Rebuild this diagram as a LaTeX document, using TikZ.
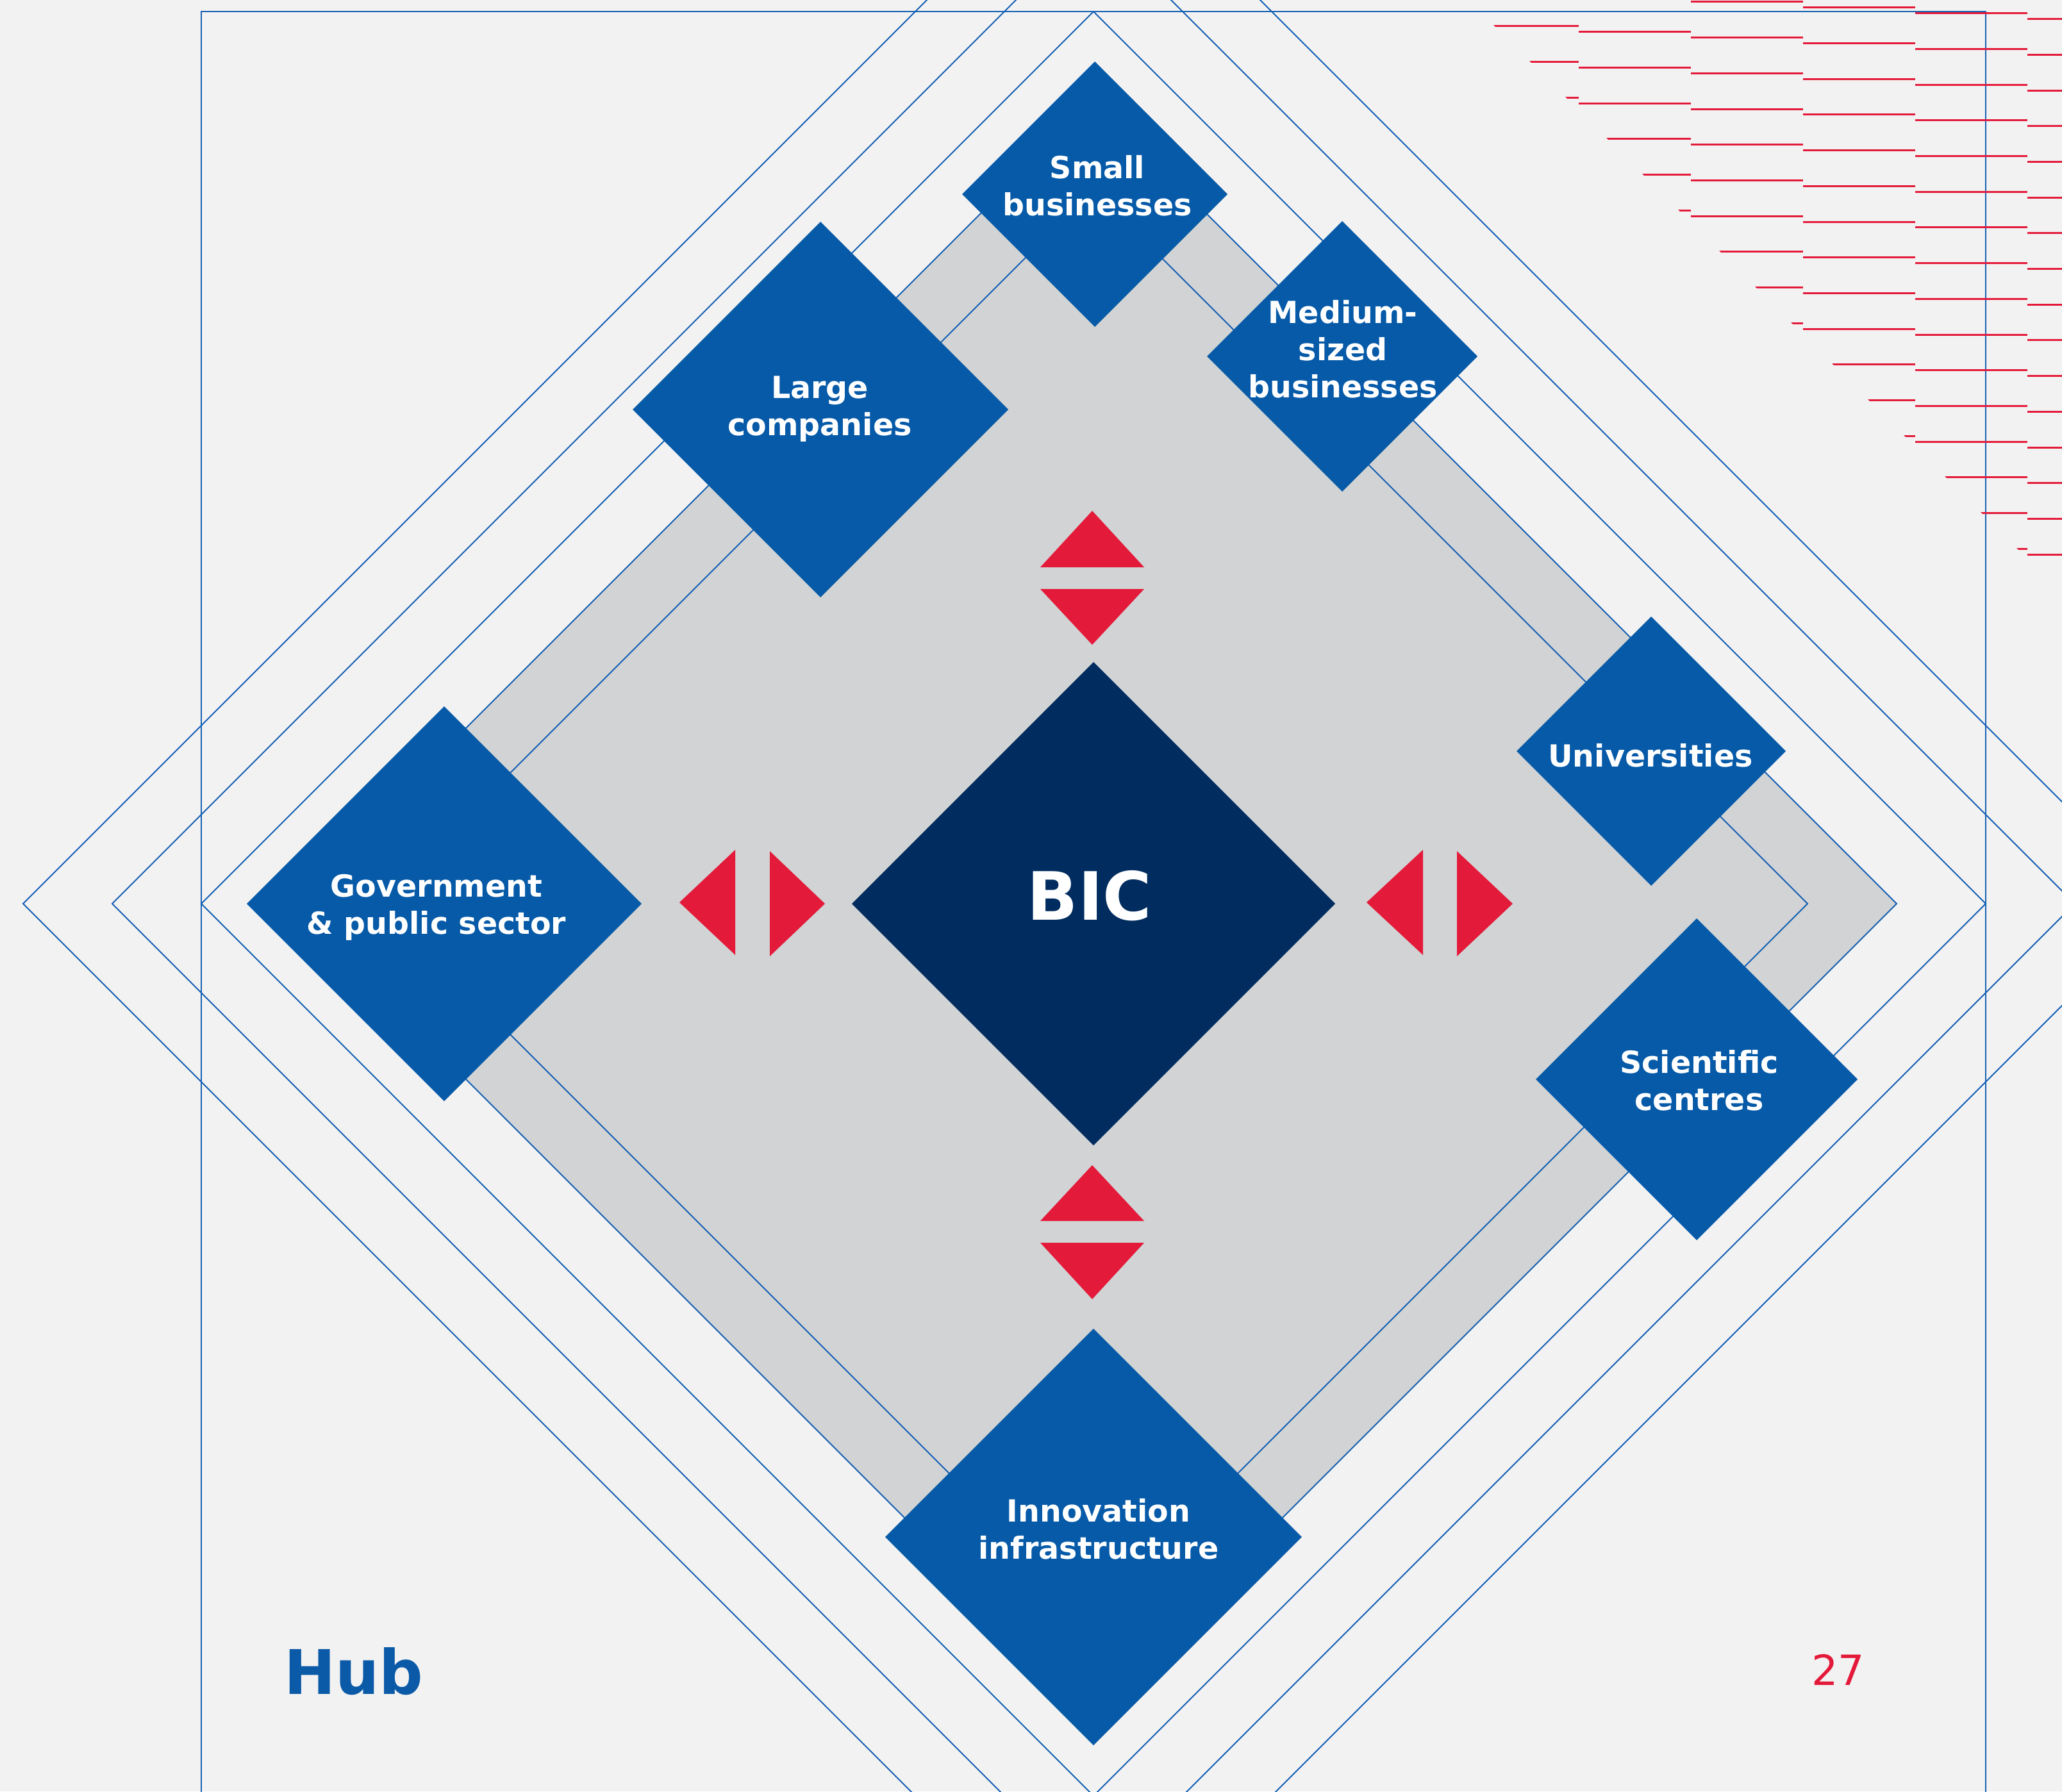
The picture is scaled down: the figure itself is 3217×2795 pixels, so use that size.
\documentclass[tikz,border=0pt]{standalone}
\usepackage{fontspec}
\setmainfont{DejaVu Sans}
\usetikzlibrary{shapes.geometric}
\definecolor{bgc}{HTML}{F2F2F2}
\definecolor{grayfill}{HTML}{D1D3D4}
\definecolor{nodeblue}{HTML}{065AA8}
\definecolor{navy}{HTML}{002C5F}
\definecolor{redc}{HTML}{E41A3A}
\definecolor{lineblue}{HTML}{1560B4}
\definecolor{hubblue}{HTML}{0B5AA8}
\begin{document}
\begin{tikzpicture}[x=1pt,y=-1pt,
  outline/.style={draw=lineblue, line width=2pt},
  frameline/.style={draw=lineblue, line width=2pt},
  dia/.style={diamond, aspect=1, fill=nodeblue, inner sep=0pt, outer sep=0pt, draw=none},
  core/.style={diamond, aspect=1, fill=navy, inner sep=0pt, outer sep=0pt, draw=none},
  lbl/.style={text=white, font=\fontsize{47.5}{58}\selectfont\bfseries, align=center, inner sep=0pt},
  redtri/.style={fill=redc},
  hatch/.style={draw=redc, line width=3pt}
]
% canvas
\fill[bgc] (0,0) rectangle (3217,2795);
\useasboundingbox (0,0) rectangle (3217,2795);
\coordinate (c) at (1706,1410);

% gray diamond
\fill[grayfill] ({1706-1253},1410) -- (1706,{1410-1253}) -- ({1706+1253},1410) -- (1706,{1410+1253}) -- cycle;

% concentric outlines
\foreach \h in {1114,1253,1392,1531,1670}
  \draw[outline] ({1706-\h},1410) -- (1706,{1410-\h}) -- ({1706+\h},1410) -- (1706,{1410+\h}) -- cycle;

% frame
\draw[frameline] (314,2800) -- (314,18) -- (3098,18) -- (3098,2800);

% diamonds
\node[dia, minimum width=414pt, minimum height=414pt] (small) at (1708,303) {};
\node[dia, minimum width=422pt, minimum height=422pt] (medium) at (2094,556) {};
\node[dia, minimum width=586pt, minimum height=586pt] (large) at (1280,639) {};
\node[dia, minimum width=616pt, minimum height=616pt] (gov) at (693,1410) {};
\node[dia, minimum width=420pt, minimum height=420pt] (univ) at (2576,1172) {};
\node[dia, minimum width=502pt, minimum height=502pt] (sci) at (2647,1684) {};
\node[dia, minimum width=650pt, minimum height=650pt] (infra) at (1706,2398) {};
\node[core, minimum width=754pt, minimum height=754pt] (bic) at (c) {};

% labels
\node[lbl] (smallt) at (1712,290) {Small\\businesses};
\node[lbl] (mediumt) at (2095,545) {Medium-\\sized\\businesses};
\node[lbl] (larget) at (1279,638) {Large\\companies};
\node[lbl] (govt) at (681,1416) {Government\\\& public sector};
\node[lbl] (univt) at (2575,1179) {Universities};
\node[lbl] (scit) at (2651,1686) {Scientific\\centres};
\node[lbl] (infrat) at (1714,2386) {Innovation\\infrastructure};
\node[text=white, font=\fontsize{104}{120}\selectfont\bfseries, inner sep=0pt] (bict) at (1700,1398) {BIC};

% red triangles
\fill[redtri] (1704,797) -- (1785,885) -- (1623,885) -- cycle;
\fill[redtri] (1623,919) -- (1785,919) -- (1704,1006) -- cycle;
\fill[redtri] (1704,1818) -- (1785,1905) -- (1623,1905) -- cycle;
\fill[redtri] (1623,1939) -- (1785,1939) -- (1704,2027) -- cycle;
\fill[redtri] (1060,1408) -- (1147,1326) -- (1147,1490) -- cycle;
\fill[redtri] (1201,1328) -- (1287,1410) -- (1201,1492) -- cycle;
\fill[redtri] (2132,1408) -- (2220,1326) -- (2220,1490) -- cycle;
\fill[redtri] (2273,1328) -- (2360,1410) -- (2273,1492) -- cycle;

% red hatching
\begin{scope}
\clip (2291,0) -- (3217,0) -- (3217,926) -- cycle;
\foreach \r in {0,...,15}
  \foreach \k in {0,...,5}
    \draw[hatch] ({2288+175*\k},{40.8+(\r-1)*55.7+\k*8.9}) -- ({2463+175*\k},{40.8+(\r-1)*55.7+\k*8.9});
\end{scope}

% page texts
\node[anchor=base west, text=hubblue, font=\fontsize{96}{110}\selectfont\bfseries, inner sep=0pt] (hub) at (443,2643) {Hub};
\node[anchor=base west, text=redc, font=\fontsize{65}{72}\selectfont, inner sep=0pt] (page) at (2826,2629) {27};
\end{tikzpicture}
\end{document}
